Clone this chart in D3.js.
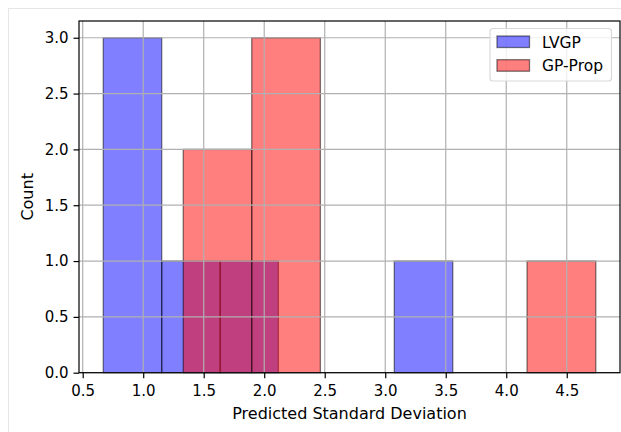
<!DOCTYPE html>
<html><head><meta charset="utf-8">
<script src="https://cdn.jsdelivr.net/npm/d3@7"></script>
<style>body{margin:0;background:#fff;} svg{display:block;font-family:"DejaVu Sans",sans-serif;}</style>
</head><body>
<script>
// Histogram bins
const lvgpEdges = [0.670, 1.153, 1.636, 2.117, 2.600, 3.075, 3.558];
const lvgpCounts = [3, 1, 1, 0, 0, 1];
const gpEdges = [1.331, 1.897, 2.464, 3.030, 3.600, 4.172, 4.740];
const gpCounts = [2, 3, 0, 0, 0, 1];
const xTicks = [0.5, 1.0, 1.5, 2.0, 2.5, 3.0, 3.5, 4.0, 4.5];
const yTicks = [0.0, 0.5, 1.0, 1.5, 2.0, 2.5, 3.0];
const seriesNames = ["LVGP", "GP-Prop"];
const seriesColors = ["#0000ff", "#ff0000"];

const W = 621, H = 432;
const L = 79, R = 620, T = 21, B = 372.7;
const FS = 15, LFS = 16;
const svg = d3.select("body").append("svg").attr("width", W).attr("height", H);
svg.append("rect").attr("x", 8.5).attr("y", 8.5).attr("width", W).attr("height", H)
  .attr("fill", "none").attr("stroke", "#e6e6e6").attr("stroke-width", 1);

const x = d3.scaleLinear().domain([0.4694, 4.940]).range([L, R]);
const y = d3.scaleLinear().domain([0, 3.15]).range([B, T]);

function bars(edges, counts, color) {
  const data = counts.map((c, i) => ({x0: edges[i], x1: edges[i+1], c})).filter(d => d.c > 0);
  svg.append("g").selectAll("rect").data(data).join("rect")
    .attr("x", d => x(d.x0)).attr("width", d => x(d.x1) - x(d.x0))
    .attr("y", d => y(d.c)).attr("height", d => y(0) - y(d.c))
    .attr("fill", color).attr("fill-opacity", 0.5)
    .attr("stroke", "#000").attr("stroke-opacity", 0.5).attr("stroke-width", 1.3);
}
bars(lvgpEdges, lvgpCounts, seriesColors[0]);
bars(gpEdges, gpCounts, seriesColors[1]);

// grid (drawn above patches as matplotlib does)
const grid = svg.append("g").attr("stroke", "#b0b0b0").attr("stroke-width", 1.2);
xTicks.forEach(t => grid.append("line").attr("x1", x(t)).attr("x2", x(t)).attr("y1", T).attr("y2", B));
yTicks.forEach(t => grid.append("line").attr("x1", L).attr("x2", R).attr("y1", y(t)).attr("y2", y(t)));

// axes
const xAxis = d3.axisBottom(x).tickValues(xTicks).tickFormat(d3.format(".1f")).tickSizeInner(5.5).tickSizeOuter(0).tickPadding(7);
const yAxis = d3.axisLeft(y).tickValues(yTicks).tickFormat(d3.format(".1f")).tickSizeInner(5.5).tickSizeOuter(0).tickPadding(5);
const gx = svg.append("g").attr("transform", `translate(0,${B})`).call(xAxis);
const gy = svg.append("g").attr("transform", `translate(${L},0)`).call(yAxis);
[gx, gy].forEach(g => {
  g.selectAll("text").attr("font-size", FS).attr("fill", "#000").attr("font-family", "DejaVu Sans");
  g.selectAll("line").attr("stroke", "#000").attr("stroke-width", 1.2);
  g.select(".domain").remove();
});
// spines
svg.append("rect").attr("x", L).attr("y", T).attr("width", R - L).attr("height", B - T)
  .attr("fill", "none").attr("stroke", "#000").attr("stroke-width", 1.2);

svg.append("text").attr("x", (L + R) / 2).attr("y", 419).attr("text-anchor", "middle")
  .attr("font-size", LFS).text("Predicted Standard Deviation");
svg.append("text").attr("transform", `translate(33,${(T + B) / 2}) rotate(-90)`).attr("text-anchor", "middle")
  .attr("font-size", LFS).text("Count");

// legend
const lg = svg.append("g");
lg.append("rect").attr("x", 490).attr("y", 28.5).attr("width", 121.5).attr("height", 52.5).attr("rx", 3)
  .attr("fill", "#fff").attr("fill-opacity", 0.8).attr("stroke", "#d9d9d9").attr("stroke-width", 1.2);
seriesNames.forEach((n, i) => {
  const yy = 36 + i * 23.7;
  lg.append("rect").attr("x", 497).attr("y", yy).attr("width", 32.5).attr("height", 11.5)
    .attr("fill", seriesColors[i]).attr("fill-opacity", 0.5).attr("stroke", "#000").attr("stroke-opacity", 0.5).attr("stroke-width", 1.3);
  lg.append("text").attr("x", 542).attr("y", yy + 11.5).attr("font-size", 15.5).text(n);
});
</script>
</body></html>
